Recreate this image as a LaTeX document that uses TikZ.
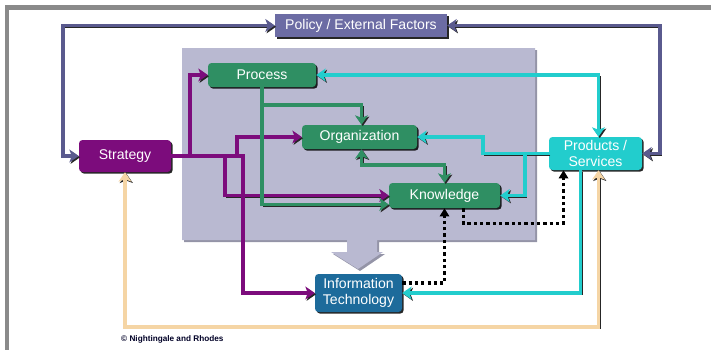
\documentclass[tikz,border=0pt]{standalone}
\usepackage{fontspec}
\setmainfont{Liberation Sans}
\usepackage{xcolor}
\usetikzlibrary{arrows.meta,calc,shadows}

\definecolor{framegray}{HTML}{8A8A8A}
\definecolor{panelgray}{HTML}{B9B9D1}
\definecolor{policyblue}{HTML}{6C6CA4}
\definecolor{navyline}{HTML}{5A5A8E}
\definecolor{procgreen}{HTML}{2F8F63}
\definecolor{stratpurple}{HTML}{7C0C7C}
\definecolor{prodcyan}{HTML}{22CDCD}
\definecolor{itblue}{HTML}{1D6B9B}
\definecolor{peach}{HTML}{F5D5A5}

\begin{document}
\begin{tikzpicture}[x=0.3mm, y=-0.3mm,
	box/.style = {rounded corners = 3pt, inner sep = 0pt, text = white, align = center,
		font = \fontsize{12}{13.5}\selectfont,
		drop shadow = {shadow xshift = 1.4pt, shadow yshift = -1.4pt, fill = black, opacity = .85}},
	link/.style = {line width = 3.4pt, >={Stealth[length = 8pt, width = 11pt, inset = 2pt]},
		preaction = {draw = black!85, transform canvas = {shift = {(1.1pt,-1.1pt)}}}},
	dotlink/.style = {line width = 2.8pt, black, dash pattern = on 2.8pt off 2.6pt,
		>={Triangle[length = 7pt, width = 8pt]}}]
	\useasboundingbox (0,0) rectangle (711,350);
	\fill[framegray] (5,5) rectangle (711,10);
	\fill[framegray] (5,5) rectangle (9,350);
	\fill[panelgray!80!black] (184,50) -- (537,50) -- (537,242) -- (379,242) -- (379,254) -- (385,254) -- (360,271) -- (333,254) -- (349,254) -- (349,242) -- (184,242) -- cycle;
	\fill[panelgray] (182,48) -- (535,48) -- (535,240) -- (377,240) -- (377,252) -- (383,252) -- (358,269) -- (331,252) -- (347,252) -- (347,240) -- (182,240) -- cycle;
	\node[box, rounded corners = 0pt, fill = policyblue, minimum width = 51.6mm, minimum height = 6.9mm] (policy) at (361,25.5) {Policy / External Factors};
	\node[box, fill = procgreen, minimum width = 32.4mm, minimum height = 7.2mm] (process) at (262,75) {Process};
	\node[box, fill = procgreen, minimum width = 34.5mm, minimum height = 7.2mm] (organization) at (359.5,137) {Organization};
	\node[box, fill = procgreen, minimum width = 33.3mm, minimum height = 7.5mm] (knowledge) at (444.5,195.5) {Knowledge};
	\node[box, fill = stratpurple, minimum width = 27.6mm, minimum height = 9.6mm] (strategy) at (125,156) {Strategy};
	\node[box, fill = prodcyan, minimum width = 27.9mm, minimum height = 9.9mm] (products) at (595.5,153.5) {Products /\\Services};
	\node[box, fill = itblue, minimum width = 26.1mm, minimum height = 11.4mm] (infotech) at (358.5,293) {Information\\Technology};
	\node[anchor = west, inner sep = 0pt, text = black!85!blue, font = \fontsize{7}{8}\selectfont\bfseries] (credit) at (121,339) {\textcopyright{} Nightingale and Rhodes};
	\draw[link, navyline, <->] (policy.west) -| ($(strategy.west)+(-16,0)$) -- (strategy.west);
	\draw[link, navyline, <->] (policy.east) -| ($(products.east)+(18,0)$) -- (products.east);
	\draw[link, peach, <->] (strategy.south) |- ($(products.south)+(3,157)$) -- ($(products.south)+(3,0)$);
	\draw[link, stratpurple, ->] (strategy.east) -| ($(process.west)+(-18,0)$) -- (process.west);
	\draw[link, stratpurple, ->] (strategy.east) -| ($(organization.west)+(-65,0)$) -- (organization.west);
	\draw[link, stratpurple, ->] (strategy.east) -| ($(knowledge.west)+(-164,0)$) -- (knowledge.west);
	\draw[link, stratpurple, ->] (strategy.east) -| ($(infotech.west)+(-72,0)$) -- (infotech.west);
	\draw[link, procgreen, ->] (process.south) |- ($(organization.north)+(2,-20)$) -- ($(organization.north)+(2,0)$);
	\draw[link, procgreen, ->] (process.south) |- ($(knowledge.west)+(0,9)$);
	\draw[link, procgreen, <->] ($(organization.south)+(2,0)$) |- ($(knowledge.north)+(0,-18)$) -- (knowledge.north);
	\draw[link, prodcyan, <->] ($(products.north)+(3,0)$) |- (process.east);
	\draw[link, prodcyan, ->] (products.west) -| ($(organization.east)+(66,0)$) -- (organization.east);
	\draw[link, prodcyan, ->] (products.west) -| ($(knowledge.east)+(25,0)$) -- (knowledge.east);
	\draw[link, prodcyan, ->] ($(products.south)+(-15,0)$) |- (infotech.east);
	\draw[dotlink, ->] ($(infotech.east)+(0,-10)$) -| (knowledge.south);
	\draw[dotlink, ->] ($(knowledge.south)+(19,0)$) |- ($(products.south)+(-32,53)$) -- ($(products.south)+(-32,0)$);
\end{tikzpicture}
\end{document}
